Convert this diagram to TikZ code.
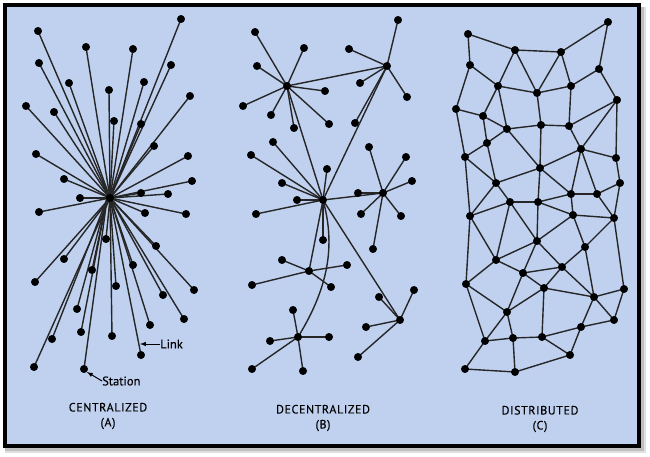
\documentclass[tikz,border=0pt]{standalone}
\usepackage{fontspec}
\setmainfont{PT Sans}[FakeBold=0.25]
\newfontfamily\lettere{PT Sans}[FakeBold=0.25,LetterSpace=5]
\usepackage{tkz-euclide}
\usepackage{amsmath}
\definecolor{pagina}{HTML}{C0D1F0}
\tikzset{cable/.style={line width=1.4pt,color=black!85},
  nota/.style={font=\fontsize{12.5}{14}\selectfont,inner sep=0pt},
  titolo/.style={font=\lettere\fontsize{12}{14}\selectfont,inner sep=0pt,align=center}}

\begin{document}
\begin{tikzpicture}[x=1pt, y=-1pt]
    \useasboundingbox (0,0) rectangle (650,457);
    \fill[white] (0,0) rectangle (650,457);
    \fill[black!12] (5,7) rectangle (646,453);
    \fill[black!25] (5,7) rectangle (644,451);
    \fill[black] (3,3) rectangle (641,448);
    \fill[pagina] (7,7) rectangle (637,444);
    \tkzSetUpPoint[fill=black,color=black,size=7.5pt]
    % CENTRALIZED
    \tkzDefPoints{110/198/H,107/199/G,38/31/A1,86/47/A2,133/49/A3,181/19/A4,39/63/A5,171/65/A6,69/83/A7,109/90/A8,144/82/A9,190/96/A10,26/106/A11,54/112/A12,114/121/A13,141/124/A14,154/146/A15,36/154/A16,188/156/A17,64/179/A18,192/181/A19,141/193/A20,168/194/A21,80/198/A22,39/212/A23,145/213/A24,186/214/A25}
    \tkzDefPoints{156/246/A26,106/239/A27,64/259/A28,92/270/A29,133/265/A30,35/282/A31,116/286/A32,194/290/A33,163/295/A34,77/309/A35,184/319/A36,150/325/A37,81/332/A38,52/339/A39,112/336/A40,141/355/A41,34/367/A42,84/369/A43}
    \tkzDrawSegments[cable](H,A1 H,A2 H,A3 H,A4 H,A5 H,A6 H,A7 H,A8 H,A9 H,A10 H,A11 H,A12 H,A13 H,A14 H,A15 H,A16 H,A17 H,A18 H,A19 H,A20 H,A21 H,A22 H,A23 H,A24 H,A25)
    \tkzDrawSegments[cable](H,A26 H,A27 H,A28 H,A30 H,A31 H,A32 H,A33 H,A34 H,A36 H,A37 H,A40 H,A41 H,A42)
    \tkzDrawSegments[cable](H,G G,A29 G,A35 G,A38 G,A39 G,A43)
    \tkzDrawPoints(H,A1,A2,A3,A4,A5,A6,A7,A8,A9,A10,A11,A12,A13,A14,A15,A16,A17,A18,A19,A20,A21,A22,A23,A24,A25)
    \tkzDrawPoints(A26,A27,A28,A29,A30,A31,A32,A33,A34,A35,A36,A37,A38,A39,A40,A41,A42,A43)
    \node[nota,anchor=west] (link) at (160,344) {Link};
    \node[nota,anchor=west] (station) at (102,381) {Station};
    \coordinate (linkend) at (140,344);
    \coordinate (stationend) at (87,372);
    \draw[-latex,line width=1pt] (link) -- (linkend);
    \draw[-latex,line width=1pt] (station.west) -- (stationend);
    \node[titolo] (centralized) at (108,416) {CENTRALIZED\\[1pt](A)};
    % DECENTRALIZED
    \tkzDefPoints{287/86/P,387/66/Q,323/200/R,383/193/S,309/271/T,298/337/U,400/320/V}
    \tkzDefPoints{255/32/B1,304/48/B2,257/66/B3,325/91/B4,243/106/B5,271/115/B6,294/128/B7,329/124/B8}
    \tkzDefPoints{398/20/B9,349/49/B10,360/83/B11,407/97/B12,355/123/B13}
    \tkzDefPoints{273/142/B14,251/155/B15,327/169/B16,282/183/B17,297/200/B18,256/214/B19,323/240/B20}
    \tkzDefPoints{369/147/B21,406/157/B22,412/181/B23,358/193/B24,361/214/B25,401/216/B26,373/249/B27}
    \tkzDefPoints{282/260/B28,347/265/B29,252/285/B30,331/287/B31}
    \tkzDefPoints{293/310/B32,270/341/B33,329/337/B34,252/369/B35,303/371/B36}
    \tkzDefPoints{414/290/B37,379/297/B38,366/327/B39,358/357/B40}
    \tkzDrawSegments[cable](P,Q P,R Q,R R,S R,T R,V)
    \tkzDrawSegments[cable](P,B1 P,B2 P,B3 P,B4 P,B5 P,B6 P,B7 P,B8)
    \tkzDrawSegments[cable](Q,B9 Q,B10 Q,B11 Q,B12 Q,B13)
    \tkzDrawSegments[cable](R,B14 R,B15 R,B16 R,B17 R,B18 R,B19 R,B20)
    \tkzDrawSegments[cable](S,B21 S,B22 S,B23 S,B24 S,B25 S,B26 S,B27)
    \tkzDrawSegments[cable](T,B28 T,B29 T,B30 T,B31)
    \tkzDrawSegments[cable](U,B32 U,B33 U,B34 U,B35 U,B36)
    \tkzDrawSegments[cable](V,B37 V,B38 V,B39 V,B40)
    \draw[cable] (R) .. controls (334,240) and (332,282) .. (U); %CURVA
    \tkzDrawPoints(P,Q,R,S,T,U,V)
    \tkzDrawPoints(B1,B2,B3,B4,B5,B6,B7,B8,B9,B10,B11,B12,B13,B14,B15,B16,B17,B18,B19,B20)
    \tkzDrawPoints(B21,B22,B23,B24,B25,B26,B27,B28,B29,B30,B31,B32,B33,B34,B35,B36,B37,B38,B39,B40)
    \node[titolo] (decentralized) at (323,418) {DECENTRALIZED\\[1pt](B)};
    % DISTRIBUTED
    \tkzDefPoints{468/34/C1,515/50/C2,561/52/C3,608/22/C4,470/65/C5,498/86/C6,537/93/C7,571/86/C8,599/69/C9,456/109/C10,483/116/C11,617/100/C12,507/129/C13,541/125/C14,569/126/C15}
    \tkzDefPoints{487/143/C16,581/149/C17,465/157/C18,616/158/C19,540/168/C20,496/183/C21,620/183/C22,571/194/C23,597/194/C24,510/202/C25,538/202/C26,470/216/C27,573/215/C28,614/218/C29}
    \tkzDefPoints{537/241/C30,585/247/C31,496/260/C32,562/267/C33,523/273/C34,466/284/C35,544/288/C36,624/289/C37,594/297/C38,507/312/C39,614/320/C40,581/327/C41,485/341/C42,513/338/C43,542/337/C44,570/355/C45,465/369/C46,515/372/C47}
    \tkzDrawSegments[cable](C1,C2 C2,C3 C3,C4 C4,C9 C1,C5 C5,C6 C5,C10 C6,C2 C2,C7 C7,C3 C3,C8 C8,C9 C9,C12 C6,C7 C7,C8 C6,C11 C6,C13 C7,C14 C8,C15)
    \tkzDrawSegments[cable](C10,C11 C10,C18 C11,C13 C11,C16 C13,C14 C14,C15 C15,C12 C12,C17 C12,C19 C15,C17 C13,C16 C13,C20 C14,C20 C17,C20 C17,C19 C16,C18 C18,C21 C16,C21 C20,C21 C20,C23 C17,C23 C17,C24 C19,C22 C24,C22 C23,C24)
    \tkzDrawSegments[cable](C18,C27 C21,C27 C21,C25 C25,C26 C27,C25 C26,C23 C23,C28 C24,C29 C22,C29 C28,C29 C26,C28 C20,C26)
    \tkzDrawSegments[cable](C27,C32 C27,C35 C25,C32 C25,C30 C26,C30 C28,C30 C28,C31 C29,C31 C29,C37)
    \tkzDrawSegments[cable](C35,C32 C30,C32 C30,C34 C30,C33 C31,C33 C31,C38 C33,C38 C33,C34 C33,C36 C32,C34 C34,C36 C34,C39 C36,C39 C36,C38 C36,C44 C37,C38 C37,C40 C38,C40 C38,C41 C40,C41)
    \tkzDrawSegments[cable](C35,C39 C35,C42 C39,C42 C39,C43 C42,C43 C43,C44 C44,C41 C44,C45 C41,C45 C42,C46 C43,C47 C46,C47 C47,C45)
    \tkzDrawPoints(C1,C2,C3,C4,C5,C6,C7,C8,C9,C10,C11,C12,C13,C14,C15,C16,C17,C18,C19,C20,C21,C22,C23,C24)
    \tkzDrawPoints(C25,C26,C27,C28,C29,C30,C31,C32,C33,C34,C35,C36,C37,C38,C39,C40,C41,C42,C43,C44,C45,C46,C47)
    \node[titolo] (distributed) at (540,419) {DISTRIBUTED\\[1pt](C)};
\end{tikzpicture}
\end{document}
